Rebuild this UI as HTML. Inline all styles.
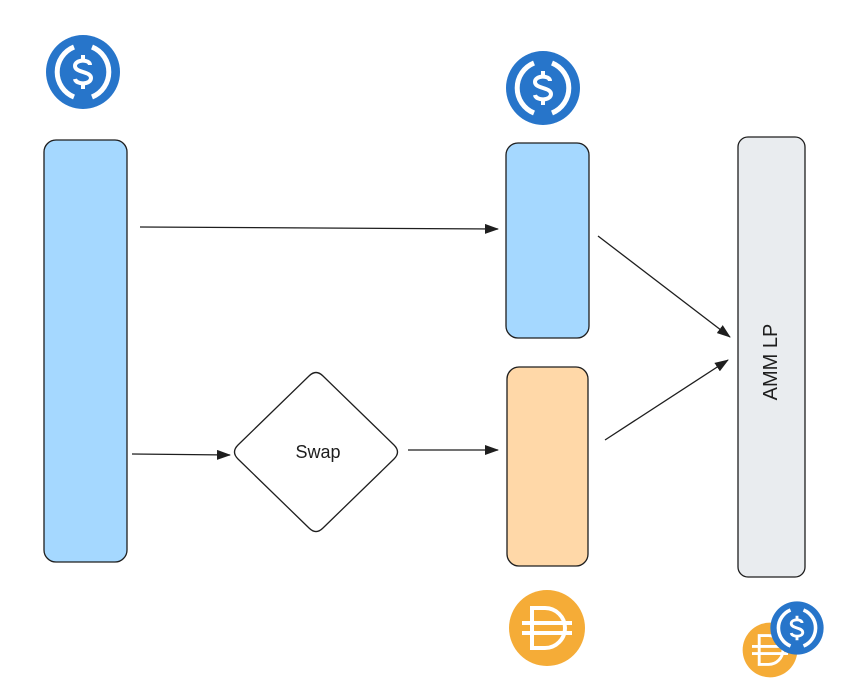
<!DOCTYPE html>
<html><head><meta charset="utf-8"><style>
html,body{margin:0;padding:0;background:#fff;width:858px;height:697px;overflow:hidden}
</style></head><body>
<svg width="858" height="697" viewBox="0 0 858 697" xmlns="http://www.w3.org/2000/svg">
<defs>
<g id="usdc">
<circle cx="0" cy="0" r="37" fill="#2775ca"/>
<path d="M-9,-25 A27,27 0 0 0 -9,25" fill="none" stroke="#fff" stroke-width="5"/>
<path d="M9,-25 A27,27 0 0 1 9,25" fill="none" stroke="#fff" stroke-width="5"/>
<path d="M7,-7 C7,-13 -8,-13 -8,-6 C-8,1 8,-1 8,6 C8,13 -7,13 -8,7" fill="none" stroke="#fff" stroke-width="4"/>
<line x1="0" y1="-17" x2="0" y2="-11" stroke="#fff" stroke-width="4"/>
<line x1="0" y1="11" x2="0" y2="17" stroke="#fff" stroke-width="4"/>
</g>
<g id="dai">
<circle cx="0" cy="0" r="38" fill="#f5ac37"/>
<path d="M-15,-20 L-2,-20 A20,20 0 0 1 -2,20 L-15,20 Z" fill="none" stroke="#fff" stroke-width="4"/>
<line x1="-25" y1="-5" x2="25" y2="-5" stroke="#fff" stroke-width="4"/>
<line x1="-25" y1="5" x2="25" y2="5" stroke="#fff" stroke-width="4"/>
</g>
<marker id="ah" markerWidth="14" markerHeight="10" refX="13" refY="5" orient="auto" markerUnits="userSpaceOnUse">
<path d="M0,0 L14,5 L0,10 Z" fill="#1e1e1e"/>
</marker>
</defs>

<g stroke="#1e1e1e" stroke-width="1.3">
<rect x="44" y="140" width="83" height="422" rx="12" fill="#a5d8ff"/>
<rect x="506" y="143" width="83" height="195" rx="12" fill="#a5d8ff"/>
<rect x="507" y="367" width="81" height="199" rx="12" fill="#ffd8a8"/>
<rect x="738" y="137" width="67" height="440" rx="10" fill="#e9ecef"/>
<path d="M238,445 L309,376 Q316,369 323,376 L394,445 Q401,452 394,459 L323,528 Q316,535 309,528 L238,459 Q231,452 238,445 Z" fill="#fff"/>
</g>
<g stroke="#1e1e1e" stroke-width="1.3" fill="none">
<line x1="140" y1="227" x2="498" y2="229" marker-end="url(#ah)"/>
<line x1="132" y1="454" x2="230" y2="455" marker-end="url(#ah)"/>
<line x1="408" y1="450" x2="498" y2="450" marker-end="url(#ah)"/>
<line x1="598" y1="236" x2="730" y2="337" marker-end="url(#ah)"/>
<line x1="605" y1="440" x2="728" y2="360" marker-end="url(#ah)"/>
</g>
<text x="318" y="458" font-family="Liberation Sans, sans-serif" font-size="18" text-anchor="middle" fill="#1e1e1e">Swap</text>
<text transform="translate(777,362) rotate(-90)" font-family="Liberation Sans, sans-serif" font-size="20" text-anchor="middle" fill="#1e1e1e">AMM LP</text>

<use href="#usdc" transform="translate(83,72)"/>
<use href="#usdc" transform="translate(543,88)"/>
<use href="#dai" transform="translate(547,628)"/>
<use href="#dai" transform="translate(770,650) scale(0.72)"/>
<use href="#usdc" transform="translate(797,628) scale(0.72)"/>
</svg>
</body></html>
